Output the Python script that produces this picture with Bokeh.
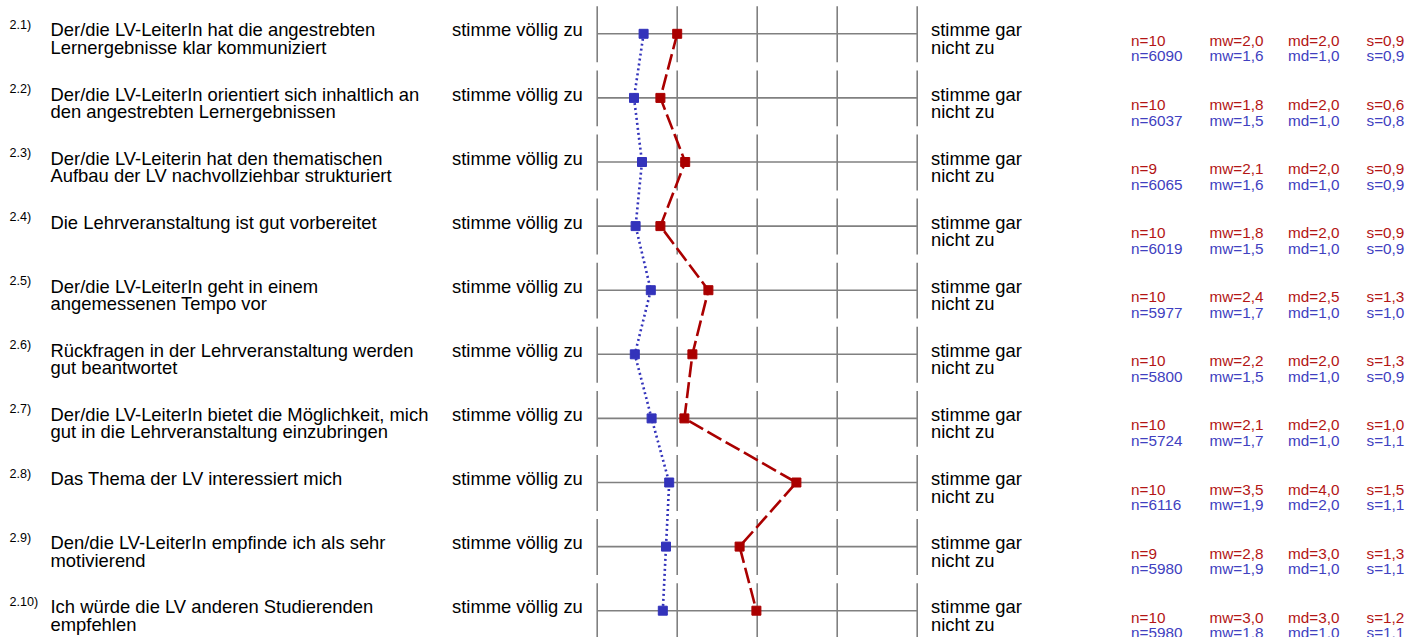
from bokeh.plotting import figure
from bokeh.models import Range1d, ColumnDataSource
from bokeh.core.properties import value
from bokeh.embed import file_html
from bokeh.resources import INLINE

# ---------------- data ----------------
items = ["2.1)", "2.2)", "2.3)", "2.4)", "2.5)", "2.6)", "2.7)", "2.8)", "2.9)", "2.10)"]
question_line1 = [
    "Der/die LV-LeiterIn hat die angestrebten",
    "Der/die LV-LeiterIn orientiert sich inhaltlich an",
    "Der/die LV-Leiterin hat den thematischen",
    "Die Lehrveranstaltung ist gut vorbereitet",
    "Der/die LV-LeiterIn geht in einem",
    "Rückfragen in der Lehrveranstaltung werden",
    "Der/die LV-LeiterIn bietet die Möglichkeit, mich",
    "Das Thema der LV interessiert mich",
    "Den/die LV-LeiterIn empfinde ich als sehr",
    "Ich würde die LV anderen Studierenden",
]
question_line2 = [
    "Lernergebnisse klar kommuniziert",
    "den angestrebten Lernergebnissen",
    "Aufbau der LV nachvollziehbar strukturiert",
    "",
    "angemessenen Tempo vor",
    "gut beantwortet",
    "gut in die Lehrveranstaltung einzubringen",
    "",
    "motivierend",
    "empfehlen",
]
left_pole = "stimme völlig zu"
right_pole_1 = "stimme gar"
right_pole_2 = "nicht zu"
scale_points = [1, 2, 3, 4, 5]

# course (red) and all courses (blue) statistics
mean_course = [2.00, 1.79, 2.10, 1.79, 2.39, 2.19, 2.09, 3.49, 2.78, 2.99]
n_course = [10, 10, 9, 10, 10, 10, 10, 10, 9, 10]
md_course = [2.0, 2.0, 2.0, 2.0, 2.5, 2.0, 2.0, 4.0, 3.0, 3.0]
s_course = [0.9, 0.6, 0.9, 0.9, 1.3, 1.3, 1.0, 1.5, 1.3, 1.2]

mean_all = [1.58, 1.46, 1.56, 1.48, 1.67, 1.47, 1.68, 1.90, 1.86, 1.82]
n_all = [6090, 6037, 6065, 6019, 5977, 5800, 5724, 6116, 5980, 5980]
md_all = [1.0, 1.0, 1.0, 1.0, 1.0, 1.0, 1.0, 2.0, 1.0, 1.0]
s_all = [0.9, 0.8, 0.9, 0.9, 1.0, 0.9, 1.1, 1.1, 1.1, 1.1]

# ---------------- layout helpers ----------------
W, H = 1407, 637
X0_PX, UNIT_PX = 596.7, 80.0      # pixel of scale value 1, pixels per scale unit
Y0_PX, ROW_PX = 33.3, 64.1        # pixel of first row centre, row pitch
TEXT_SHIFT = -5.5                 # correction of the text baseline placement


def px_x(px):
    return 1 + (px - X0_PX) / UNIT_PX


def dy(px):
    return px / ROW_PX


def fmt(v):
    return f"{v:.1f}".replace(".", ",")


FONT = value("Liberation Sans")
GRID = "#808080"
RED = "#aa0000"
BLUE = "#3333bb"
RED_TXT = "#b31515"
BLUE_TXT = "#4040c0"

rows = list(range(len(items)))

p = figure(width=W, height=H, output_backend="svg", toolbar_location=None,
           x_range=Range1d(px_x(0), px_x(W)),
           y_range=Range1d((H - Y0_PX) / ROW_PX, -Y0_PX / ROW_PX),
           x_axis_location=None, y_axis_location=None,
           min_border=0, outline_line_color=None,
           background_fill_color="white", border_fill_color="white")
p.xgrid.visible = False
p.ygrid.visible = False

# ---------------- scale grid ----------------
p.segment(x0=[scale_points[0]] * len(rows), x1=[scale_points[-1]] * len(rows),
          y0=rows, y1=rows, line_color=GRID, line_width=1.6)
tx, ty0, ty1 = [], [], []
for r in rows:
    for k in scale_points:
        tx.append(k)
        ty0.append(r - dy(27.5))
        ty1.append(r + dy(28.4))
p.segment(x0=tx, x1=tx, y0=ty0, y1=ty1, line_color=GRID, line_width=1.6)

# ---------------- profile lines ----------------
p.line(mean_all, rows, line_color=BLUE, line_width=2.6, line_dash="2 3")
p.line(mean_course, rows, line_color=RED, line_width=2.6, line_dash="16 5")
p.scatter(mean_all, rows, marker="square", size=9, fill_color=BLUE, line_color=BLUE)
p.scatter(mean_course, rows, marker="square", size=9, fill_color=RED, line_color=RED)


# ---------------- texts ----------------
def put_text(xpx, texts, off_px, size, color="black"):
    src = ColumnDataSource(dict(x=[px_x(xpx)] * len(texts),
                                y=[r + dy(off_px + TEXT_SHIFT) for r in rows[:len(texts)]],
                                t=texts))
    p.text(x="x", y="y", text="t", source=src, text_font=FONT,
           text_font_size=size, text_color=color,
           text_align="left", text_baseline="alphabetic")


put_text(9, items, -3.5, "12.6px")
put_text(50, question_line1, 1.6, "18.4px")
put_text(50, question_line2, 19.0, "18.4px")
put_text(451.5, [left_pole] * len(rows), 1.6, "18.4px")
put_text(930.5, [right_pole_1] * len(rows), 1.6, "18.4px")
put_text(930.5, [right_pole_2] * len(rows), 19.0, "18.4px")

put_text(1130.5, [f"n={v}" for v in n_course], 12.0, "15.3px", RED_TXT)
put_text(1209, [f"mw={fmt(v)}" for v in mean_course], 12.0, "15.3px", RED_TXT)
put_text(1287.5, [f"md={fmt(v)}" for v in md_course], 12.0, "15.3px", RED_TXT)
put_text(1366, [f"s={fmt(v)}" for v in s_course], 12.0, "15.3px", RED_TXT)

put_text(1130.5, [f"n={v}" for v in n_all], 27.6, "15.3px", BLUE_TXT)
put_text(1209, [f"mw={fmt(v)}" for v in mean_all], 27.6, "15.3px", BLUE_TXT)
put_text(1287.5, [f"md={fmt(v)}" for v in md_all], 27.6, "15.3px", BLUE_TXT)
put_text(1366, [f"s={fmt(v)}" for v in s_all], 27.6, "15.3px", BLUE_TXT)

open("out.html", "w").write(file_html(p, INLINE))
